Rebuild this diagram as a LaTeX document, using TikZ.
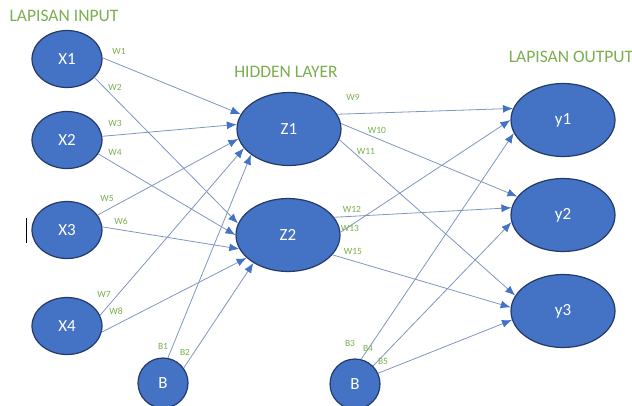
\documentclass[tikz,border=0pt]{standalone}
\usepackage{fontspec}
\setmainfont{Carlito}
\usetikzlibrary{shapes.geometric,arrows.meta}
\definecolor{nodeblue}{RGB}{68,114,196}
\definecolor{nodeedge}{RGB}{36,58,104}
\definecolor{wirecol}{RGB}{128,150,192}
\definecolor{labelgreen}{RGB}{122,174,78}

\begin{document}
\begin{tikzpicture}[x=1pt,y=-1pt]
\tikzstyle{neuron}=[draw=nodeedge,line width=1.2pt,fill=nodeblue,shape=ellipse,text=white,inner sep=0pt,font=\fontsize{17}{19}\selectfont];
\tikzstyle{inp}=[neuron,minimum width=70pt,minimum height=57pt];
\tikzstyle{big}=[neuron,minimum width=104pt,minimum height=73pt];
\tikzstyle{bias}=[neuron,shape=circle,minimum size=50pt];
\tikzstyle{title}=[text=labelgreen,font=\fontsize{17.5}{19}\selectfont];
\tikzstyle{wlabel}=[text=labelgreen,inner sep=0pt,font=\fontsize{9.5}{10}\selectfont];
\tikzstyle{wire}=[draw=wirecol,line width=0.8pt,-{Latex[length=10pt,width=8pt,fill=nodeblue,color=nodeblue]}];
\useasboundingbox (0,0) rectangle (632,405);

% layers
\node[title] (tin) at (64,16) {LAPISAN INPUT};
\node[title] (thid) at (286,72) {HIDDEN LAYER};
\node[title] (tout) at (571,57) {LAPISAN OUTPUT};

% input layer
\node[inp] (x1) at (67,59) {X1};
\node[inp] (x2) at (67,140) {X2};
\node[inp] (x3) at (67,230) {X3};
\node[inp] (x4) at (67,326) {X4};
\node[bias] (b1) at (163,383) {B};

% hidden layer
\node[big] (z1) at (289,129) {Z1};
\node[big] (z2) at (288,235) {Z2};
\node[bias] (b2) at (355,384) {B};

% output layer
\node[big] (y1) at (563,120) {y1};
\node[big] (y2) at (563,215) {y2};
\node[big] (y3) at (563,311) {y3};

% connections
\foreach \src/\sa/\dst/\da in {x1/2/z1/163, x2/6/z1/175, x3/26/z1/191, x4/18/z1/203, b1/79/z1/214,
	x1/-34/z2/167, x2/-24/z2/180, x3/5/z2/196, x4/-10/z2/209, b1/36/z2/219,
	z1/17/y1/167, z2/3/y1/180, b2/76/y1/195,
	z1/6/y2/158, z2/21/y2/172, b2/45/y2/188,
	z1/-12/y3/162, z2/-24/y3/176, b2/25/y3/190}{
	\draw[wire] (\src.\sa) -- (\dst.\da);
}

% weights
\node[wlabel] (w1) at (119,51) {W1};
\node[wlabel] (w2) at (115,87) {W2};
\node[wlabel] (w3) at (115,123) {W3};
\node[wlabel] (w4) at (115,152) {W4};
\node[wlabel] (w5) at (107,198) {W5};
\node[wlabel] (w6) at (121,221) {W6};
\node[wlabel] (w7) at (104,294) {W7};
\node[wlabel] (w8) at (116,311) {W8};
\node[wlabel] (wb1) at (163,346) {B1};
\node[wlabel] (wb2) at (185,352) {B2};
\node[wlabel] (w9) at (353,97) {W9};
\node[wlabel] (w10) at (377,130) {W10};
\node[wlabel] (w11) at (366,151) {W11};
\node[wlabel] (w12) at (352,209) {W12};
\node[wlabel] (w13) at (350,228) {W13};
\node[wlabel] (w15) at (353,251) {W15};
\node[wlabel] (wb3) at (350,343) {B3};
\node[wlabel] (wb4) at (368,348) {B4};
\node[wlabel] (wb5) at (383,361) {B5};

% cursor mark
\coordinate (c1) at (26,218);
\coordinate (c2) at (26,243);
\draw[line width=0.8pt] (c1) -- (c2);
\end{tikzpicture}
\end{document}
